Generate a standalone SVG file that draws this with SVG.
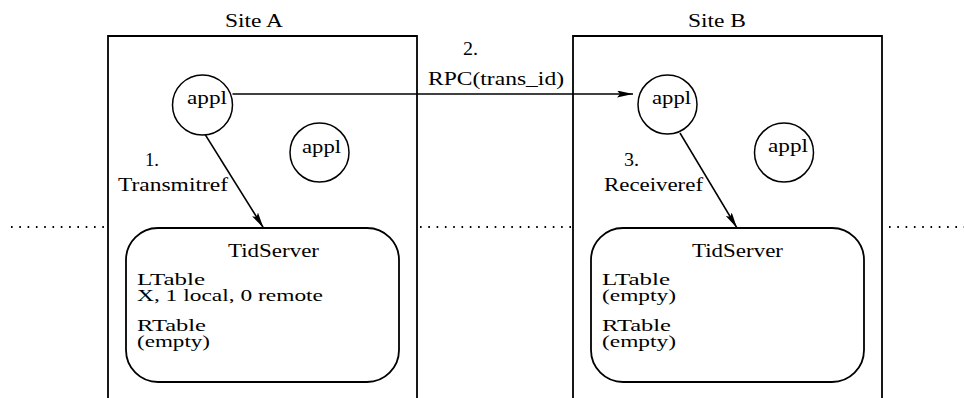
<svg xmlns="http://www.w3.org/2000/svg" width="964" height="398" viewBox="0 0 964 398">
  <style>
    text { font-family: "Liberation Serif", "DejaVu Serif", "Times New Roman", serif; font-size: 19px; fill: #000; }
    .tbl { font-size: 16px; }
    .site { fill: none; stroke: #000; stroke-width: 1.8; }
    .proc { fill: #fff; stroke: #000; stroke-width: 1.5; }
    .server { fill: #fff; stroke: #000; stroke-width: 1.8; }
    .edge { fill: none; stroke: #000; stroke-width: 1.5; }
    .sep { fill: none; stroke: #000; stroke-width: 1.8; stroke-dasharray: 1.6 6.7; }
  </style>
  <defs>
    <marker id="head" markerUnits="userSpaceOnUse" markerWidth="17" markerHeight="8" refX="16" refY="3.5" orient="auto">
      <path d="M0,0 L16,3.5 L0,7 L3,3.5 Z" fill="#000"/>
    </marker>
  </defs>
  <rect width="964" height="398" fill="#fff"/>

  <!-- dotted separators between sites -->
  <g id="separators">
    <line class="sep" x1="11" y1="227" x2="106" y2="227"/>
    <line class="sep" x1="420" y1="227" x2="571" y2="227"/>
    <line class="sep" x1="889" y1="227" x2="964" y2="227"/>
  </g>

  <!-- site frames, open at the bottom -->
  <g id="siteA">
    <path class="site" d="M108,400 V36 H417 V400"/>
    <text x="225" y="27" textLength="58" lengthAdjust="spacingAndGlyphs">Site A</text>
  </g>
  <g id="siteB">
    <path class="site" d="M573,400 V36 H882 V400"/>
    <text x="688" y="27" textLength="58" lengthAdjust="spacingAndGlyphs">Site B</text>
  </g>

  <!-- connectors -->
  <g id="connectors">
    <line class="edge" x1="232.5" y1="94" x2="633" y2="94" marker-end="url(#head)"/>
    <text x="463" y="55" textLength="15" lengthAdjust="spacingAndGlyphs">2.</text>
    <text x="428" y="85" textLength="136" lengthAdjust="spacingAndGlyphs">RPC(trans_id)</text>

    <line class="edge" x1="204.5" y1="133.5" x2="263.5" y2="228" marker-end="url(#head)"/>
    <text x="145" y="166" textLength="14" lengthAdjust="spacingAndGlyphs">1.</text>
    <text x="118" y="191" textLength="110" lengthAdjust="spacingAndGlyphs">Transmitref</text>

    <line class="edge" x1="680" y1="133" x2="737" y2="228" marker-end="url(#head)"/>
    <text x="624" y="166" textLength="15" lengthAdjust="spacingAndGlyphs">3.</text>
    <text x="604" y="191" textLength="99" lengthAdjust="spacingAndGlyphs">Receiveref</text>
  </g>

  <!-- application processes -->
  <g id="applA1">
    <circle class="proc" cx="202.5" cy="105" r="30"/>
    <text x="187" y="104" textLength="40" lengthAdjust="spacingAndGlyphs">appl</text>
  </g>
  <g id="applA2">
    <circle class="proc" cx="319.5" cy="152.5" r="29.5"/>
    <text x="302" y="153" textLength="39" lengthAdjust="spacingAndGlyphs">appl</text>
  </g>
  <g id="applB1">
    <circle class="proc" cx="667.5" cy="104.5" r="29.5"/>
    <text x="652" y="104" textLength="39" lengthAdjust="spacingAndGlyphs">appl</text>
  </g>
  <g id="applB2">
    <circle class="proc" cx="784" cy="152.5" r="29.5"/>
    <text x="768" y="152" textLength="40" lengthAdjust="spacingAndGlyphs">appl</text>
  </g>

  <!-- transaction id servers -->
  <g id="tidServerA">
    <rect class="server" x="126" y="228" width="273" height="154" rx="32" ry="32"/>
    <text x="228" y="257" textLength="91" lengthAdjust="spacingAndGlyphs">TidServer</text>
    <text class="tbl" x="137" y="285" textLength="68" lengthAdjust="spacingAndGlyphs">LTable</text>
    <text class="tbl" x="137" y="301" textLength="186" lengthAdjust="spacingAndGlyphs">X, 1 local, 0 remote</text>
    <text class="tbl" x="137" y="331" textLength="69" lengthAdjust="spacingAndGlyphs">RTable</text>
    <text class="tbl" x="137" y="347" textLength="73" lengthAdjust="spacingAndGlyphs">(empty)</text>
  </g>
  <g id="tidServerB">
    <rect class="server" x="591" y="228" width="273" height="154" rx="32" ry="32"/>
    <text x="692" y="257" textLength="91" lengthAdjust="spacingAndGlyphs">TidServer</text>
    <text class="tbl" x="602" y="285" textLength="68" lengthAdjust="spacingAndGlyphs">LTable</text>
    <text class="tbl" x="602" y="301" textLength="74" lengthAdjust="spacingAndGlyphs">(empty)</text>
    <text class="tbl" x="602" y="331" textLength="69" lengthAdjust="spacingAndGlyphs">RTable</text>
    <text class="tbl" x="602" y="347" textLength="74" lengthAdjust="spacingAndGlyphs">(empty)</text>
  </g>
</svg>
